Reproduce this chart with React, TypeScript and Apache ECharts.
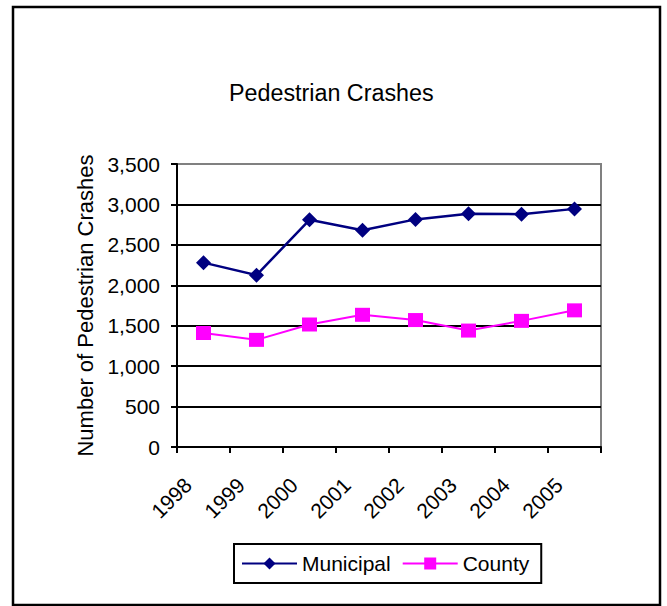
import React, { useEffect, useRef } from "react";
import * as echarts from "echarts";

const years = ["1998", "1999", "2000", "2001", "2002", "2003", "2004", "2005"];
const municipal = [2280, 2125, 2810, 2680, 2815, 2885, 2880, 2945];
const county = [1410, 1325, 1515, 1635, 1570, 1440, 1560, 1690];
const yTicks = [0, 500, 1000, 1500, 2000, 2500, 3000, 3500];

const FONT = "'Liberation Sans', Arial, Helvetica, sans-serif";

export default function App() {
  const ref = useRef<HTMLDivElement>(null);
  useEffect(() => {
    if (!ref.current) return;
    const chart = echarts.init(ref.current, null, { renderer: "svg" });
    chart.setOption({
      animation: false,
      backgroundColor: "#ffffff",
      textStyle: { fontFamily: FONT },
      title: {
        text: "Pedestrian Crashes",
        left: 229,
        top: 81,
        padding: 0,
        textStyle: { fontFamily: FONT, fontSize: 23.3, fontWeight: "normal", color: "#000" },
      },
      graphic: [
        {
          type: "rect",
          shape: { x: 13, y: 7, width: 647, height: 598 },
          style: { fill: "none", stroke: "#000", lineWidth: 2.5 },
          silent: true,
        },
      ],
      legend: {
        left: 234,
        top: 544,
        orient: "horizontal",
        borderColor: "#000",
        borderWidth: 2,
        padding: [9, 12, 9, 7],
        itemWidth: 55,
        itemHeight: 15,
        itemGap: 11,
        textStyle: { fontFamily: FONT, fontSize: 21, color: "#000" },
        data: ["Municipal", "County"],
      },
      grid: {
        left: 177,
        right: 66,
        top: 164,
        bottom: 159,
        show: true,
        borderColor: "#808080",
        borderWidth: 2,
        backgroundColor: "#ffffff",
      },
      xAxis: {
        type: "category",
        data: years,
        boundaryGap: true,
        axisLine: { lineStyle: { color: "#000", width: 2 } },
        axisTick: { show: true, length: 6, inside: false, lineStyle: { color: "#000", width: 2 } },
        axisLabel: {
          rotate: 45,
          margin: 19,
          padding: [0, 22, 0, 0],
          fontFamily: FONT,
          fontSize: 21,
          color: "#000",
          interval: 0,
        },
        splitLine: { show: false },
      },
      yAxis: {
        type: "value",
        min: yTicks[0],
        max: yTicks[yTicks.length - 1],
        interval: 500,
        name: "Number of Pedestrian Crashes",
        nameLocation: "middle",
        nameGap: 81,
        nameTextStyle: { fontFamily: FONT, fontSize: 22, color: "#000" },
        axisLine: { show: true, lineStyle: { color: "#000", width: 2 } },
        axisTick: { show: true, length: 6, lineStyle: { color: "#000", width: 2 } },
        axisLabel: {
          margin: 17,
          fontFamily: FONT,
          fontSize: 21,
          color: "#000",
          formatter: (v: number) => v.toLocaleString("en-US"),
        },
        splitLine: {
          show: true,
          lineStyle: {
            color: ["#000", "#000", "#000", "#000", "#000", "#000", "#000", "#808080"],
            width: 2,
          },
        },
      },
      series: [
        {
          name: "Municipal",
          type: "line",
          data: municipal,
          symbol: "diamond",
          symbolSize: [15, 15],
          color: "#000080",
          lineStyle: { color: "#000080", width: 2.5 },
          itemStyle: { color: "#000080" },
        },
        {
          name: "County",
          type: "line",
          data: county,
          symbol: "rect",
          symbolSize: [15, 14],
          color: "#FF00FF",
          lineStyle: { color: "#FF00FF", width: 2 },
          itemStyle: { color: "#FF00FF" },
        },
      ],
    });
    return () => chart.dispose();
  }, []);
  return (
    <div
      ref={ref}
      style={{ position: "absolute", left: 0, top: 0, width: 667, height: 606 }}
    />
  );
}
